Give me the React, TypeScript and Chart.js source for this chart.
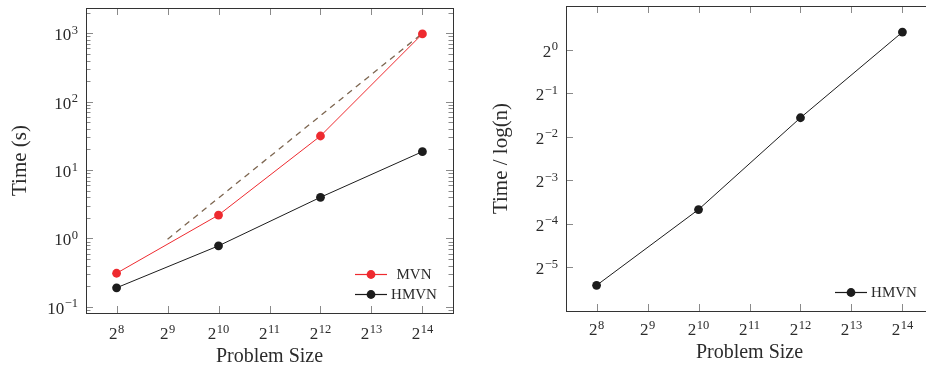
import React, { useEffect, useRef } from "react";
import { Chart, registerables } from "chart.js";

Chart.register(...registerables);

// ---- data ----
const problemSizes = [256, 1024, 4096, 16384];
const mvnTime = [0.31, 2.2, 31.5, 980];
const hmvnTime = [0.19, 0.78, 4.0, 18.6];
const refSizes = [512, 16384];
const refTime = [0.977, 1000];
const hmvnTimePerLog = [0.0235, 0.0785, 0.338, 1.32];
const xTickExps = [8, 9, 10, 11, 12, 13, 14];
const leftYTickExps = [-1, 0, 1, 2, 3];
const rightYTickExps = [-5, -4, -3, -2, -1, 0];

const FONT = '"Liberation Serif", "Times New Roman", serif';
const TEXT = "#2b2b2b";
const RED = "#ee2a2f";
const BLACK = "#1c1c1c";
const REF = "#7d6650";

function expStr(p: number) {
  return p < 0 ? "\u2212" + Math.abs(p) : String(p);
}

function drawPow(ctx: CanvasRenderingContext2D, base: string, exp: string, x: number, y: number, align: "center" | "right") {
  ctx.font = `17px ${FONT}`;
  const bw = ctx.measureText(base).width;
  ctx.font = `12.5px ${FONT}`;
  const ew = ctx.measureText(exp).width;
  const total = bw + ew + 0.5;
  const x0 = align === "center" ? x - total / 2 : x - total;
  ctx.textAlign = "left";
  ctx.textBaseline = "alphabetic";
  ctx.font = `17px ${FONT}`;
  ctx.fillText(base, x0, y);
  ctx.font = `12.5px ${FONT}`;
  ctx.fillText(exp, x0 + bw + 0.5, y - 6.5);
}

type FrameCfg = {
  yBase: number;
  yExps: number[];
  minor: boolean;
  yTitle: string;
  yTitleX: number;
  xTitleY: number;
  xLabelDy: number;
  legend: string[];
};

function makeFramePlugin(cfg: FrameCfg) {
  return {
    id: "frame",
    beforeDatasetsDraw(chart: any) {
      const { ctx, chartArea: a, scales } = chart;
      const x = scales.x;
      const y = scales.y;
      ctx.save();
      ctx.strokeStyle = "#8a8a8a";
      ctx.lineWidth = 1;
      ctx.beginPath();
      const MAJ = 7;
      const MIN = 4.5;
      for (const p of xTickExps) {
        const px = Math.round(x.getPixelForValue(Math.pow(2, p))) + 0.5;
        ctx.moveTo(px, a.bottom);
        ctx.lineTo(px, a.bottom - MAJ);
        ctx.moveTo(px, a.top);
        ctx.lineTo(px, a.top + MAJ);
      }
      for (const p of cfg.yExps) {
        const py = Math.round(y.getPixelForValue(Math.pow(cfg.yBase, p))) + 0.5;
        ctx.moveTo(a.left, py);
        ctx.lineTo(a.left + MAJ, py);
        ctx.moveTo(a.right, py);
        ctx.lineTo(a.right - MAJ, py);
      }
      if (cfg.minor) {
        const lo = Math.floor(Math.log10(y.min));
        const hi = Math.ceil(Math.log10(y.max));
        for (let d = lo; d <= hi; d++) {
          for (let m = 2; m <= 9; m++) {
            const v = m * Math.pow(10, d);
            if (v < y.min || v > y.max) continue;
            const py = Math.round(y.getPixelForValue(v)) + 0.5;
            ctx.moveTo(a.left, py);
            ctx.lineTo(a.left + MIN, py);
            ctx.moveTo(a.right, py);
            ctx.lineTo(a.right - MIN, py);
          }
        }
      }
      ctx.stroke();
      ctx.strokeStyle = "#333";
      ctx.strokeRect(Math.round(a.left) + 0.5, Math.round(a.top) + 0.5, Math.round(a.right - a.left), Math.round(a.bottom - a.top));
      ctx.restore();
    },
    afterDraw(chart: any) {
      const { ctx, chartArea: a, scales } = chart;
      const x = scales.x;
      const y = scales.y;
      ctx.save();
      ctx.fillStyle = TEXT;
      for (const p of xTickExps) {
        const px = x.getPixelForValue(Math.pow(2, p));
        drawPow(ctx, "2", expStr(p), px, a.bottom + cfg.xLabelDy, "center");
      }
      for (const p of cfg.yExps) {
        const py = y.getPixelForValue(Math.pow(cfg.yBase, p));
        drawPow(ctx, String(cfg.yBase), expStr(p), a.left - 8, py + 7, "right");
      }
      // axis titles
      ctx.font = `20px ${FONT}`;
      ctx.textAlign = "center";
      ctx.textBaseline = "alphabetic";
      ctx.fillText("Problem Size", (a.left + a.right) / 2, cfg.xTitleY);
      ctx.save();
      ctx.translate(cfg.yTitleX, (a.top + a.bottom) / 2);
      ctx.rotate(-Math.PI / 2);
      ctx.textBaseline = "middle";
      ctx.font = `21px ${FONT}`;
      ctx.fillText(cfg.yTitle, 0, 0);
      ctx.restore();
      // legend
      const entries = chart.data.datasets.filter((d: any) => cfg.legend.includes(d.label));
      const n = entries.length;
      entries.forEach((d: any, i: number) => {
        const ly = a.bottom - 18.5 - (n - 1 - i) * 20;
        ctx.strokeStyle = d.borderColor;
        ctx.lineWidth = 1.2;
        ctx.beginPath();
        ctx.moveTo(a.right - 98, ly);
        ctx.lineTo(a.right - 66, ly);
        ctx.stroke();
        ctx.fillStyle = d.backgroundColor;
        ctx.beginPath();
        ctx.arc(a.right - 82, ly, 4.4, 0, Math.PI * 2);
        ctx.fill();
        ctx.fillStyle = TEXT;
        ctx.font = `15px ${FONT}`;
        ctx.textAlign = "center";
        ctx.textBaseline = "middle";
        ctx.fillText(d.label, a.right - 39, ly + 1);
      });
      ctx.restore();
    },
  };
}

function series(label: string, xs: number[], ys: number[], color: string) {
  return {
    label,
    data: xs.map((v, i) => ({ x: v, y: ys[i] })),
    borderColor: color,
    backgroundColor: color,
    borderWidth: 1,
    pointRadius: 4.4,
    pointHoverRadius: 4.4,
    pointBorderWidth: 0,
    pointBackgroundColor: color,
    tension: 0,
  };
}

function useChart(ref: React.RefObject<HTMLCanvasElement | null>, build: () => any) {
  useEffect(() => {
    if (!ref.current) return;
    const chart = new Chart(ref.current, build());
    return () => chart.destroy();
  }, []);
}

export default function App() {
  const leftRef = useRef<HTMLCanvasElement | null>(null);
  const rightRef = useRef<HTMLCanvasElement | null>(null);

  useChart(leftRef, () => ({
    type: "line",
    data: {
      datasets: [
        series("MVN", problemSizes, mvnTime, RED),
        series("HMVN", problemSizes, hmvnTime, BLACK),
        {
          label: "ref",
          data: refSizes.map((v, i) => ({ x: v, y: refTime[i] })),
          borderColor: REF,
          borderWidth: 1.3,
          borderDash: [6, 5],
          pointRadius: 0,
        },
      ],
    },
    options: {
      animation: false,
      responsive: false,
      events: [],
      layout: { padding: { left: 86, right: 10, top: 8, bottom: 56 } },
      plugins: { legend: { display: false }, tooltip: { enabled: false } },
      scales: {
        x: { type: "logarithmic", min: Math.pow(2, 7.4), max: Math.pow(2, 14.6), display: false },
        y: { type: "logarithmic", min: Math.pow(10, -1.09), max: Math.pow(10, 3.37), display: false },
      },
    },
    plugins: [
      makeFramePlugin({
        yBase: 10,
        yExps: leftYTickExps,
        minor: true,
        yTitle: "Time (s)",
        yTitleX: 20,
        xTitleY: 361.5,
        xLabelDy: 26,
        legend: ["MVN", "HMVN"],
      }),
    ],
  }));

  useChart(rightRef, () => ({
    type: "line",
    data: {
      datasets: [series("HMVN", problemSizes, hmvnTimePerLog, BLACK)],
    },
    options: {
      animation: false,
      responsive: false,
      events: [],
      layout: { padding: { left: 103, right: 5, top: 6, bottom: 58 } },
      plugins: { legend: { display: false }, tooltip: { enabled: false } },
      scales: {
        x: { type: "logarithmic", min: Math.pow(2, 7.4), max: Math.pow(2, 14.6), display: false },
        y: { type: "logarithmic", min: Math.pow(2, -6), max: Math.pow(2, 1), display: false },
      },
    },
    plugins: [
      makeFramePlugin({
        yBase: 2,
        yExps: rightYTickExps,
        minor: false,
        yTitle: "Time / log(n)",
        yTitleX: 38,
        xTitleY: 358,
        xLabelDy: 24,
        legend: ["HMVN"],
      }),
    ],
  }));

  return (
    <div style={{ position: "absolute", left: 0, top: 0, width: 926, height: 369, overflow: "hidden", background: "#fff" }}>
      <canvas ref={leftRef} width={463} height={369} style={{ position: "absolute", left: 0, top: 0, width: 463, height: 369 }} />
      <canvas ref={rightRef} width={475} height={369} style={{ position: "absolute", left: 463, top: 0, width: 475, height: 369 }} />
    </div>
  );
}
